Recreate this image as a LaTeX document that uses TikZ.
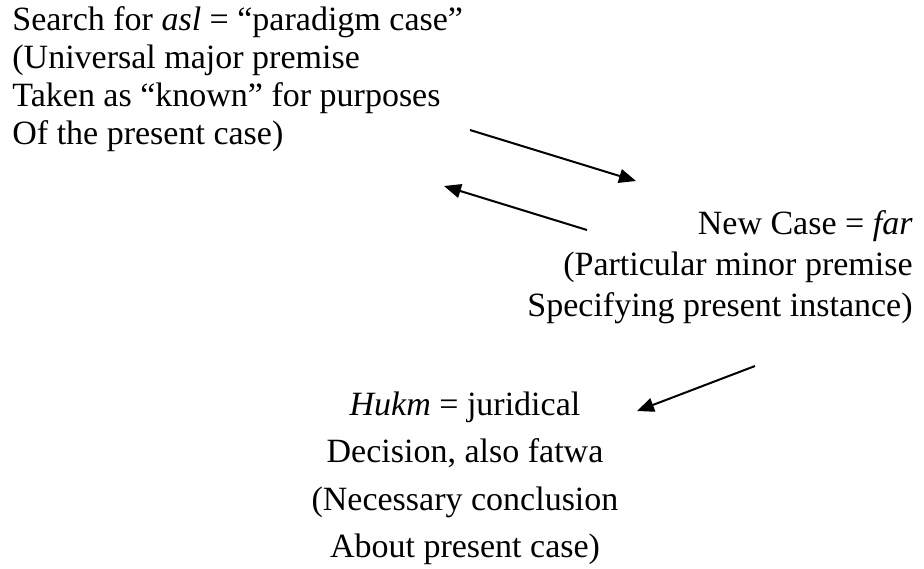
\documentclass[tikz,border=0pt]{standalone}
\usepackage{fontspec}
\setmainfont{Liberation Serif}
\usetikzlibrary{arrows.meta}
\begin{document}
\begin{tikzpicture}[x=0.5pt,y=-0.5pt,
  txt/.style={inner sep=0pt,font=\fontsize{17pt}{19pt}\selectfont},
  lft/.style={txt,anchor=base west},
  rgt/.style={txt,anchor=base east},
  ctr/.style={txt,anchor=base},
  link/.style={line width=1pt,-{Triangle[length=8.5pt,width=7pt]}}]
\useasboundingbox (0,0) rectangle (924,568);
% top block
\node[lft] (t1) at (12,30) {Search for \textit{asl} = “paradigm case”};
\node[lft] (t2) at (12,68) {(Universal major premise};
\node[lft] (t3) at (12,106) {Taken as “known” for purposes};
\node[lft] (t4) at (12,144) {Of the present case)};
% right block
\node[rgt] (r1) at (913,234) {New Case = \textit{far}};
\node[rgt] (r2) at (913,275) {(Particular minor premise};
\node[rgt] (r3) at (913,316) {Specifying present instance)};
% bottom block
\node[ctr] (b1) at (465,415) {\textit{Hukm} = juridical};
\node[ctr] (b2) at (465,462) {Decision, also fatwa};
\node[ctr] (b3) at (465,510) {(Necessary conclusion};
\node[ctr] (b4) at (465,557) {About present case)};
% arrow ends
\coordinate (a1s) at (470,130);
\coordinate (a1e) at (636,181);
\coordinate (a2s) at (587,230);
\coordinate (a2e) at (444,186);
\coordinate (a3s) at (755,366);
\coordinate (a3e) at (637,411);
\draw[link] (a1s) -- (a1e);
\draw[link] (a2s) -- (a2e);
\draw[link] (a3s) -- (a3e);
\end{tikzpicture}
\end{document}
